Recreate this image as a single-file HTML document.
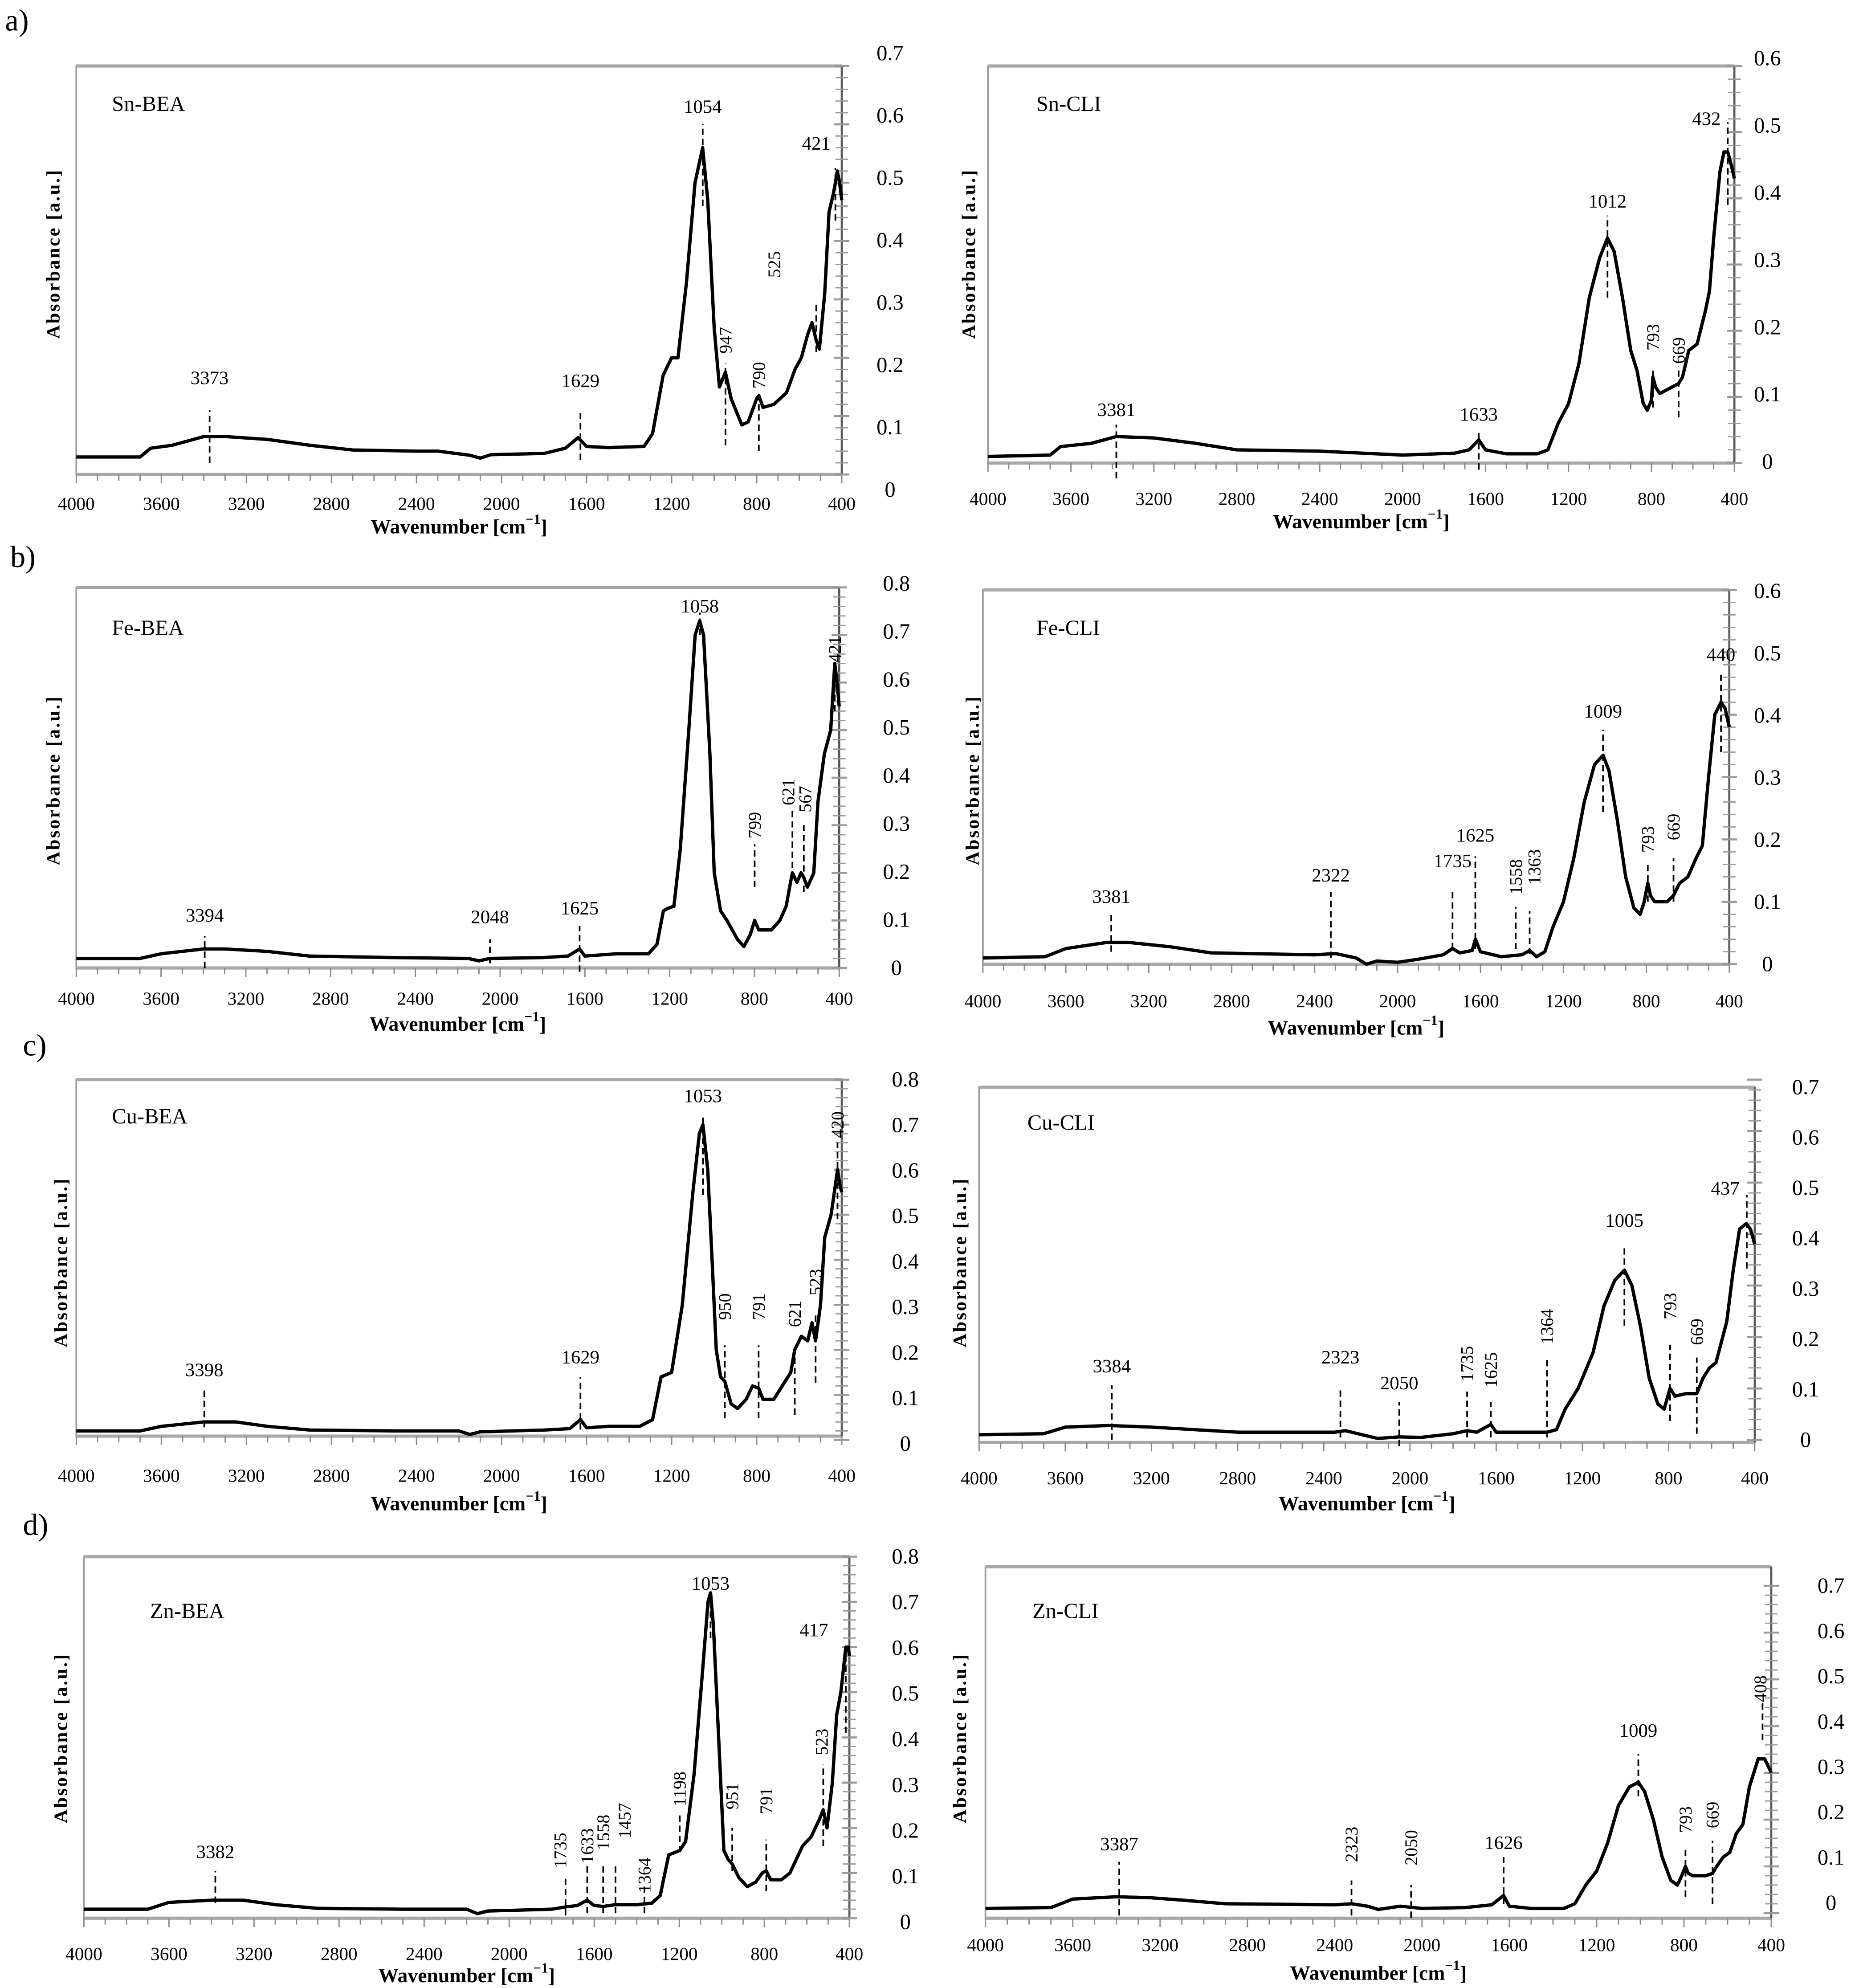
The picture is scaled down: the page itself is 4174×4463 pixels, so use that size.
<!DOCTYPE html>
<html><head><meta charset="utf-8"><title>FTIR spectra</title>
<style>
html,body{margin:0;padding:0;background:#fff;}
svg{display:block;}
text{font-family:"Liberation Serif",serif;fill:#000;}
</style></head>
<body>
<svg id="fig" xmlns="http://www.w3.org/2000/svg" width="4174" height="4463" viewBox="0 0 1462 1567" preserveAspectRatio="none"></svg>
<script>
// ---------- data (wavenumber cm-1 / absorbance) ----------
const snBeaWn=[4000,3700,3650,3550,3400,3300,3100,2900,2700,2400,2300,2150,2100,2050,1800,1700,1640,1600,1500,1330,1290,1240,1200,1170,1130,1090,1054,1030,1000,975,947,920,870,840,800,790,770,720,660,620,590,560,540,520,505,480,460,440,430,421,410,400];
const snBeaAbs=[0.03,0.03,0.045,0.05,0.065,0.065,0.06,0.05,0.042,0.04,0.04,0.033,0.028,0.034,0.036,0.045,0.063,0.048,0.046,0.048,0.07,0.17,0.2,0.2,0.33,0.5,0.56,0.47,0.25,0.15,0.175,0.13,0.085,0.09,0.13,0.135,0.115,0.12,0.14,0.18,0.2,0.24,0.26,0.23,0.215,0.31,0.45,0.48,0.5,0.52,0.5,0.47];
const snCliWn=[4000,3700,3650,3500,3381,3200,3000,2800,2400,2000,1750,1680,1633,1600,1500,1350,1300,1250,1200,1150,1100,1050,1012,980,940,900,870,840,820,800,793,780,760,700,669,650,620,580,540,520,500,470,450,432,415,400];
const snCliAbs=[0.01,0.012,0.025,0.03,0.04,0.038,0.03,0.02,0.018,0.012,0.015,0.02,0.035,0.02,0.014,0.014,0.02,0.06,0.09,0.15,0.25,0.31,0.34,0.32,0.25,0.17,0.14,0.09,0.08,0.095,0.13,0.115,0.105,0.115,0.12,0.13,0.17,0.18,0.23,0.26,0.34,0.44,0.47,0.47,0.45,0.43];
const feBeaWn=[4000,3700,3600,3400,3300,3100,2900,2500,2150,2100,2050,1800,1680,1625,1600,1450,1300,1260,1230,1210,1180,1150,1110,1080,1058,1040,1010,990,960,930,880,850,820,799,780,720,680,650,630,621,600,580,567,550,520,500,470,440,421,410,400];
const feBeaAbs=[0.02,0.02,0.03,0.04,0.04,0.035,0.025,0.022,0.02,0.015,0.02,0.022,0.025,0.04,0.025,0.03,0.03,0.05,0.12,0.125,0.13,0.25,0.5,0.7,0.73,0.7,0.45,0.2,0.12,0.1,0.06,0.045,0.07,0.1,0.08,0.08,0.1,0.13,0.18,0.2,0.18,0.2,0.19,0.17,0.2,0.35,0.45,0.5,0.64,0.6,0.55];
const feCliWn=[4000,3700,3600,3400,3300,3100,2900,2400,2300,2200,2150,2100,2000,1900,1780,1735,1700,1640,1625,1600,1500,1400,1363,1330,1290,1250,1200,1150,1100,1050,1009,980,940,900,860,830,810,793,780,760,700,669,640,600,560,530,500,470,440,420,400];
const feCliAbs=[0.01,0.012,0.025,0.035,0.035,0.028,0.018,0.015,0.017,0.01,0.0,0.005,0.003,0.008,0.015,0.025,0.018,0.022,0.04,0.02,0.012,0.015,0.022,0.012,0.02,0.06,0.1,0.17,0.26,0.32,0.335,0.31,0.23,0.14,0.09,0.08,0.1,0.13,0.11,0.1,0.1,0.11,0.13,0.14,0.17,0.19,0.3,0.4,0.42,0.41,0.38];
const cuBeaWn=[4000,3700,3600,3400,3250,3100,2900,2500,2200,2150,2100,1800,1680,1629,1600,1500,1350,1290,1250,1200,1150,1100,1070,1053,1030,1010,990,970,950,920,890,850,820,791,770,720,680,640,621,590,560,540,523,500,480,450,420,410,400];
const cuBeaAbs=[0.02,0.02,0.03,0.04,0.04,0.03,0.022,0.02,0.02,0.012,0.018,0.022,0.025,0.045,0.027,0.03,0.03,0.045,0.14,0.15,0.3,0.55,0.68,0.7,0.6,0.4,0.2,0.14,0.13,0.08,0.07,0.09,0.12,0.115,0.09,0.09,0.12,0.15,0.2,0.23,0.22,0.26,0.22,0.3,0.45,0.5,0.6,0.57,0.55];
const cuCliWn=[4000,3700,3600,3400,3200,3000,2800,2350,2300,2200,2150,2050,1950,1800,1735,1690,1625,1600,1450,1364,1320,1280,1220,1150,1100,1050,1005,970,930,890,850,820,800,793,770,720,669,640,610,580,530,500,470,440,420,400];
const cuCliAbs=[0.01,0.012,0.025,0.028,0.025,0.02,0.015,0.015,0.018,0.008,0.003,0.006,0.005,0.012,0.018,0.015,0.03,0.015,0.015,0.015,0.02,0.06,0.1,0.17,0.26,0.31,0.33,0.3,0.22,0.12,0.07,0.06,0.09,0.1,0.085,0.09,0.09,0.12,0.14,0.15,0.23,0.33,0.41,0.42,0.41,0.38];
const znBeaWn=[4000,3700,3600,3400,3250,3100,2900,2500,2200,2150,2100,1800,1735,1680,1633,1600,1558,1500,1400,1330,1290,1250,1198,1170,1130,1090,1065,1053,1040,1010,990,970,951,920,880,840,810,791,770,720,680,650,620,580,540,523,505,480,460,440,417,405,400];
const znBeaAbs=[0.02,0.02,0.035,0.04,0.04,0.03,0.022,0.02,0.02,0.01,0.016,0.02,0.025,0.028,0.04,0.028,0.026,0.03,0.03,0.033,0.05,0.14,0.15,0.17,0.32,0.55,0.7,0.72,0.65,0.35,0.15,0.13,0.12,0.09,0.07,0.08,0.1,0.105,0.085,0.085,0.1,0.13,0.16,0.18,0.22,0.24,0.2,0.3,0.45,0.5,0.6,0.6,0.58];
const znCliWn=[4000,3700,3600,3400,3250,3100,2900,2400,2323,2250,2200,2100,2000,1800,1680,1626,1600,1500,1350,1300,1250,1200,1150,1100,1050,1009,980,940,900,860,830,810,793,780,760,700,669,650,620,590,560,530,500,460,430,410,400];
const znCliAbs=[0.01,0.012,0.03,0.035,0.033,0.028,0.02,0.018,0.02,0.015,0.008,0.015,0.01,0.012,0.018,0.038,0.015,0.01,0.01,0.02,0.06,0.09,0.15,0.23,0.27,0.28,0.26,0.2,0.12,0.07,0.06,0.08,0.1,0.085,0.08,0.08,0.085,0.1,0.12,0.13,0.17,0.19,0.27,0.33,0.33,0.31,0.3];

// peak annotations: [wn, lineLow, lineHigh, label, rotated, labelWn, labelAbs]
const snBeaPeaks=[[3373,0.02,0.11,"3373",0,3373,0.165],[1629,0.025,0.11,"1629",0,1629,0.16],[1054,0.46,0.6,"1054",0,1054,0.63],[947,0.05,0.19,"947",1,947,0.23],[790,0.04,0.135,"790",1,790,0.17],[520,0.21,0.295,"525",1,717,0.36],[430,0.435,0.525,"421",0,520,0.567]];
const snCliPeaks=[[3381,-0.023,0.058,"3381",0,3381,0.08],[1633,-0.01,0.05,"1633",0,1633,0.073],[1012,0.25,0.374,"1012",0,1012,0.395],[793,0.084,0.144,"793",1,793,0.19],[669,0.069,0.146,"669",1,669,0.17],[432,0.39,0.515,"432",0,535,0.52]];
const feBeaPeaks=[[3394,0,0.067,"3394",0,3394,0.11],[2048,0.01,0.06,"2048",0,2048,0.107],[1625,-0.008,0.088,"1625",0,1625,0.125],[1058,0.7,0.747,"1058",0,1058,0.76],[799,0.17,0.26,"799",1,799,0.3],[621,0.21,0.33,"621",1,640,0.37],[567,0.16,0.3,"567",1,560,0.355],[421,0.54,0.65,"421",1,421,0.67]];
const feCliPeaks=[[3381,0.02,0.081,"3381",0,3381,0.108],[2322,0.01,0.116,"2322",0,2322,0.142],[1735,0.024,0.12,"1735",0,1735,0.165],[1625,0.024,0.173,"1625",0,1625,0.206],[1430,0.024,0.092,"1558",1,1430,0.14],[1363,0.016,0.085,"1363",1,1340,0.156],[1009,0.244,0.376,"1009",0,1009,0.405],[793,0.1,0.16,"793",1,793,0.2],[669,0.1,0.17,"669",1,669,0.22],[440,0.34,0.47,"440",0,440,0.496]];
const cuBeaPeaks=[[3398,0.028,0.113,"3398",0,3398,0.155],[1629,0.023,0.14,"1629",0,1629,0.183],[1053,0.544,0.724,"1053",0,1053,0.763],[950,0.048,0.21,"950",1,950,0.296],[791,0.048,0.21,"791",1,791,0.296],[621,0.056,0.21,"621",1,621,0.28],[523,0.127,0.28,"523",1,523,0.35],[420,0.49,0.66,"420",1,420,0.7]];
const cuCliPeaks=[[3384,0,0.106,"3384",0,3384,0.143],[2323,0.005,0.1,"2323",0,2323,0.16],[2050,-0.012,0.074,"2050",0,2050,0.11],[1735,0.005,0.094,"1735",1,1735,0.148],[1625,0.005,0.074,"1625",1,1625,0.136],[1364,0.005,0.16,"1364",1,1364,0.22],[1005,0.222,0.375,"1005",0,1005,0.426],[793,0.037,0.185,"793",1,793,0.26],[669,0.012,0.16,"669",1,669,0.21],[437,0.333,0.476,"437",0,537,0.488]];
const znBeaPeaks=[[3382,0.034,0.104,"3382",0,3382,0.146],[1735,0.006,0.09,"1735",1,1760,0.15],[1633,0.011,0.118,"1633",1,1633,0.16],[1558,0.011,0.118,"1558",1,1558,0.19],[1500,0.011,0.118,"1457",1,1457,0.216],[1364,0.011,0.076,"1364",1,1364,0.095],[1198,0.146,0.23,"1198",1,1198,0.286],[1053,0.62,0.7,"1053",0,1053,0.74],[951,0.104,0.2,"951",1,951,0.27],[791,0.06,0.174,"791",1,791,0.26],[523,0.16,0.34,"523",1,530,0.39],[417,0.41,0.6,"417",0,567,0.637]];
const znCliPeaks=[[3387,-0.005,0.11,"3387",0,3387,0.147],[2323,-0.005,0.07,"2323",1,2323,0.147],[2050,-0.01,0.06,"2050",1,2050,0.14],[1626,0.02,0.12,"1626",0,1626,0.15],[1009,0.25,0.34,"1009",0,1009,0.39],[793,0.035,0.14,"793",1,793,0.2],[669,0.02,0.155,"669",1,669,0.21],[440,0.37,0.45,"408",1,450,0.48]];

const xTickLabels=["4000","3600","3200","2800","2400","2000","1600","1200","800","400"];

// ---------- layout ----------
const panels=[
 {id:"sn-bea",name:"Sn-BEA",wn:snBeaWn,ab:snBeaAbs,pk:snBeaPeaks,box:[60,662,52,374],d:[374,52],ymax:0.7,lab:[386,42],labX:700,xLabY:397,titleY:415,nx:88,ny:82,ytx:42,yty:200},
 {id:"sn-cli",name:"Sn-CLI",wn:snCliWn,ab:snCliAbs,pk:snCliPeaks,box:[777,1364,52,365],d:[365,52],ymax:0.6,lab:[364,46],labX:1390,xLabY:393,titleY:411,nx:815,ny:82,ytx:762,yty:200},
 {id:"fe-bea",name:"Fe-BEA",wn:feBeaWn,ab:feBeaAbs,pk:feBeaPeaks,box:[60,660,463,763],d:[763,463],ymax:0.8,lab:[763,460],labX:705,xLabY:787,titleY:807,nx:88,ny:495,ytx:42,yty:615},
 {id:"fe-cli",name:"Fe-CLI",wn:feCliWn,ab:feCliAbs,pk:feCliPeaks,box:[773,1360,465,760],d:[760,465],ymax:0.6,lab:[760,466],labX:1390,xLabY:789,titleY:810,nx:815,ny:495,ytx:765,yty:615},
 {id:"cu-bea",name:"Cu-BEA",wn:cuBeaWn,ab:cuBeaAbs,pk:cuBeaPeaks,box:[60,662,851,1132],d:[1135,851],ymax:0.8,lab:[1138,851],labX:712,xLabY:1163,titleY:1185,nx:88,ny:880,ytx:48,yty:995},
 {id:"cu-cli",name:"Cu-CLI",wn:cuCliWn,ab:cuCliAbs,pk:cuCliPeaks,box:[770,1380,857,1137],d:[1135,851],ymax:0.7,lab:[1135,857],labX:1420,xLabY:1165,titleY:1185,nx:808,ny:885,ytx:755,yty:995},
 {id:"zn-bea",name:"Zn-BEA",wn:znBeaWn,ab:znBeaAbs,pk:znBeaPeaks,box:[66,668,1227,1512],d:[1512,1227],ymax:0.8,lab:[1515,1227],labX:712,xLabY:1540,titleY:1557,nx:118,ny:1270,ytx:48,yty:1370},
 {id:"zn-cli",name:"Zn-CLI",wn:znCliWn,ab:znCliAbs,pk:znCliPeaks,box:[775,1393,1235,1512],d:[1508,1250],ymax:0.7,lab:[1500,1250],labX:1440,xLabY:1533,titleY:1555,nx:812,ny:1270,ytx:755,yty:1370}
];
const letters=[["a)",4,24],["b)",8,447],["c)",18,832],["d)",18,1210]];

const NS="http://www.w3.org/2000/svg";
const svg=document.getElementById('fig');
function mk(tag,attrs,parent){const e=document.createElementNS(NS,tag);for(const k in attrs)e.setAttribute(k,attrs[k]);(parent||svg).appendChild(e);return e;}

letters.forEach(l=>{
  const t=mk('text',{x:l[1],y:l[2],'font-size':24});
  
  
  t.textContent=l[0];
});

panels.forEach(p=>{
  const g=mk('g',{});
  
  
  const [x0,x1,yt,yb]=p.box;
  const X=wn=>x0+(4000-wn)/3600*(x1-x0);
  const Y=v=>p.d[0]+(p.d[1]-p.d[0])*(v/p.ymax);
  const LY=v=>p.lab[0]+(p.lab[1]-p.lab[0])*(v/p.ymax);
  // frame
  const fr=mk('rect',{x:x0,y:yt,width:x1-x0,height:yb-yt,fill:'none',stroke:'#9a9a9a','stroke-width':1.3},g);
  
  
  mk('line',{x1:x0,y1:yt,x2:x1,y2:yt,stroke:'#a8a8a8','stroke-width':2.5},g);
  mk('line',{x1:x0,y1:yb,x2:x1,y2:yb,stroke:'#a8a8a8','stroke-width':2.5},g);
  const ra=mk('line',{x1:x1,y1:yt,x2:x1,y2:yb,stroke:'#555','stroke-width':1.6},g);
  
  
  // x ticks
  for(let w=4000;w>=400;w-=100){
    const tk=mk('line',{x1:X(w),y1:yb,x2:X(w),y2:yb+(w%400===0?7:5),stroke:'#888','stroke-width':1},g);
    
    
  }
  xTickLabels.forEach(s=>{
    const t=mk('text',{x:X(+s),y:p.xLabY,'font-size':14.5,'text-anchor':'middle','dominant-baseline':'central'},g);
    
    
    t.textContent=s;
  });
  const xt=mk('text',{x:(x0+x1)/2,y:p.titleY,'font-size':16,'font-weight':'bold','text-anchor':'middle','dominant-baseline':'central'},g);
  
  
  xt.innerHTML='Wavenumber [cm<tspan dy="-6" font-size="11">−1</tspan><tspan dy="6">]</tspan>';
  // y ticks
  const nMinor=Math.round(p.ymax/0.02);
  for(let i=0;i<=nMinor;i++){
    const v=i*0.02, maj=Math.abs(v*10-Math.round(v*10))<1e-6;
    const tk=mk('line',{x1:x1-(maj?6:5),y1:Y(v),x2:x1+(maj?6:5),y2:Y(v),stroke:'#999','stroke-width':maj?1.6:1},g);
    
    
  }
  for(let i=0;i<=Math.round(p.ymax*10);i++){
    const v=i/10;
    const t=mk('text',{x:p.labX,y:LY(v),'font-size':17,'text-anchor':'middle','dominant-baseline':'central'},g);
    
    
    t.textContent=i===0?'0':v.toFixed(1);
  }
  const yt2=mk('text',{x:p.ytx,y:p.yty,'font-size':15,'font-weight':'bold','letter-spacing':1.2,'text-anchor':'middle','dominant-baseline':'central',transform:'rotate(-90 '+p.ytx+' '+p.yty+')'},g);
  
  
  yt2.textContent='Absorbance [a.u.]';
  const nm=mk('text',{x:p.nx,y:p.ny,'font-size':17,'dominant-baseline':'central'},g);
  
  
  nm.textContent=p.name;
  // spectrum
  const pts=p.wn.map((w,i)=>X(w).toFixed(1)+','+Y(p.ab[i]).toFixed(1)).join(' ');
  const pl=mk('polyline',{points:pts,fill:'none',stroke:'#000','stroke-width':2.6,'stroke-linejoin':'round'},g);
  
  
  // peaks
  p.pk.forEach(a=>{
    const ln=mk('line',{x1:X(a[0]),y1:Y(a[1]),x2:X(a[0]),y2:Y(a[2]),stroke:'#000','stroke-width':1.3,'stroke-dasharray':'5,3'},g);
    
    
    const lx=X(a[5]), ly=Y(a[6]);
    const t=mk('text',{x:lx,y:ly,'font-size':a[4]?14:15,'text-anchor':'middle','dominant-baseline':'central'},g);
    if(a[4]) t.setAttribute('transform','rotate(-90 '+lx+' '+ly+')');
    
    
    t.textContent=a[3];
  });
});
</script>
</body></html>
